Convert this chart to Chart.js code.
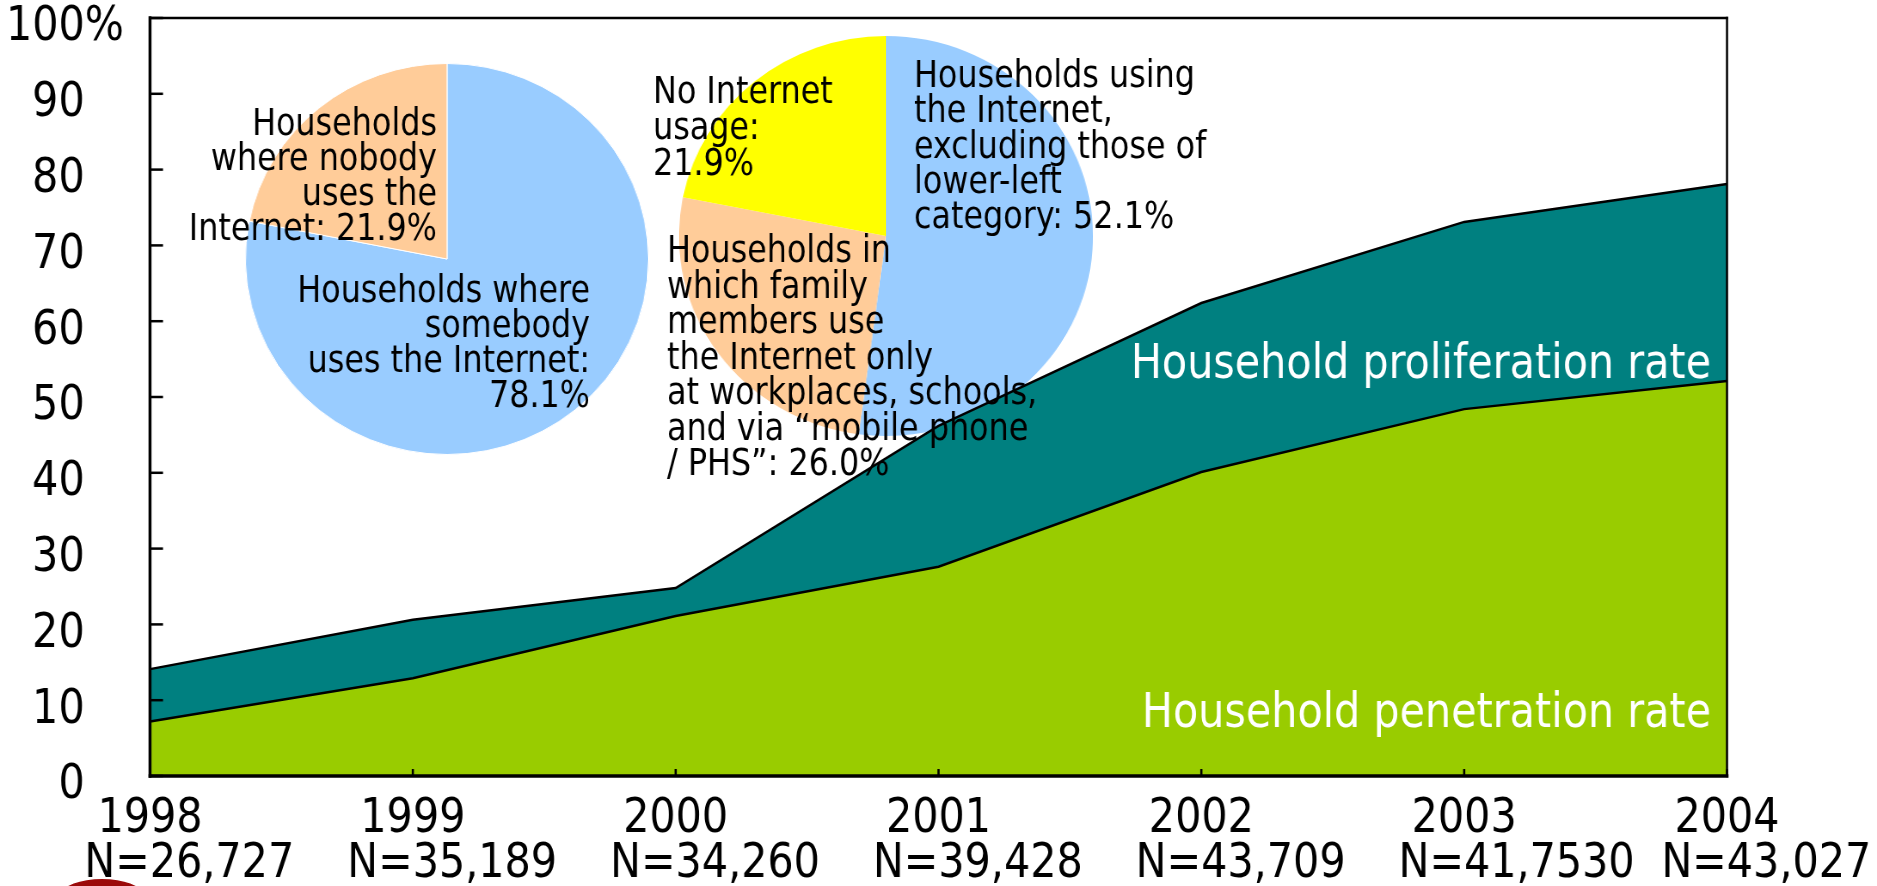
<!DOCTYPE html>
<html>
<head>
<meta charset="utf-8">
<script src="https://cdn.jsdelivr.net/npm/chart.js@4.4.1/dist/chart.umd.min.js"></script>
<style>
  html, body { margin: 0; padding: 0; background: #fff; overflow: hidden; }
  #stage { position: relative; width: 1877px; height: 886px; overflow: hidden; }
  #stage canvas { position: absolute; }
  .swoosh {
    position: absolute; left: 62px; top: 879px; width: 80px; height: 30px;
    border-radius: 50%; background: #9b0a0a;
  }
</style>
</head>
<body>
<div id="stage">
  <canvas id="pieLeft" width="392" height="392" style="left:245px;top:63px;width:404px;height:392px"></canvas>
  <canvas id="pieRight" width="400" height="400" style="left:679px;top:36px;width:414px;height:400px"></canvas>
  <canvas id="main" width="2183" height="886" style="left:0;top:0;width:1877px;height:886px"></canvas>
  <div class="swoosh"></div>
</div>
<script>
// survey years and sample sizes shown under each year
const years = ['1998', '1999', '2000', '2001', '2002', '2003', '2004'];
const sampleSizes = ['26,727', '35,189', '34,260', '39,428', '43,709', '41,7530', '43,027'];

// percent of households
const penetration = [7.2, 12.9, 21.1, 27.6, 40.1, 48.4, 52.1];
const proliferation = [14.1, 20.6, 24.8, 46.2, 62.4, 73.1, 78.1];

// 2004 breakdown pies (clockwise from 12 o'clock)
const usePie = [78.1, 21.9];          // somebody uses / nobody uses
const placePie = [52.1, 26.0, 21.9];  // home users / outside only / no usage

const BLUE = '#99ccff', PEACH = '#ffcc99', YELLOW = '#ffff00';
const TEAL = '#008080', GREEN = '#99cc00';
const FONT = '"DejaVu Sans", Verdana, sans-serif';

// the main canvas is drawn wider than it is shown, which narrows the type
const K = 1877 / 2183;
const px = x => x / K;

Chart.defaults.font.family = FONT;
Chart.defaults.color = '#000';

const pct = v => v.toFixed(1) + '%';

// year sits centred on its tick, the N line starts a little left of it
const measure = document.createElement('canvas').getContext('2d');
measure.font = '48px ' + FONT;
const yearShift = measure.measureText(years[0]).width / 2 + measure.measureText(' ').width;

function makePie(id, values, colors, border) {
  new Chart(document.getElementById(id), {
    type: 'pie',
    data: { datasets: [{ data: values, backgroundColor: colors, borderColor: '#fff', borderWidth: border }] },
    options: {
      responsive: false, devicePixelRatio: 1, animation: false, events: [],
      layout: { padding: 0 },
      plugins: { legend: { display: false }, tooltip: { enabled: false } }
    }
  });
}
makePie('pieLeft', usePie, [BLUE, PEACH], 1);
makePie('pieRight', placePie, [BLUE, PEACH, YELLOW], 0);

// text blocks placed around the pies and inside the areas
const notes = [
  { lines: ['Households', 'where nobody', 'uses the', 'Internet: ' + pct(usePie[1])],
    x: 437, y: 135, step: 35, align: 'right' },
  { lines: ['Households where', 'somebody', 'uses the Internet:', pct(usePie[0])],
    x: 590, y: 302, step: 35, align: 'right' },
  { lines: ['No Internet', 'usage:', pct(placePie[2])],
    x: 653, y: 103, step: 36, align: 'left' },
  { lines: ['Households using', 'the Internet,', 'excluding those of', 'lower-left', 'category: ' + pct(placePie[0])],
    x: 914, y: 87, step: 35.3, align: 'left' },
  { lines: ['Households in', 'which family', 'members use', 'the Internet only',
            'at workplaces, schools,', 'and via \u201Cmobile phone', '/ PHS\u201D: ' + pct(placePie[1])],
    x: 667, y: 262, step: 35.5, align: 'left' }
];
const areaNames = [
  { text: 'Household proliferation rate', x: 1711, y: 378 },
  { text: 'Household penetration rate', x: 1711, y: 727 }
];

const frame = {
  id: 'frame',
  afterDatasetsDraw(chart) {
    const { ctx, chartArea: a, scales: { x, y } } = chart;
    const seg = (x1, y1, x2, y2, w) => {
      ctx.lineWidth = w;
      ctx.beginPath(); ctx.moveTo(x1, y1); ctx.lineTo(x2, y2); ctx.stroke();
    };
    ctx.save();
    ctx.strokeStyle = '#000';
    // tick marks point into the plot
    y.ticks.forEach(t => {
      const p = y.getPixelForValue(t.value);
      seg(a.left, p, a.left + px(13), p, 2.5);
    });
    x.ticks.forEach((t, i) => {
      const p = x.getPixelForTick(i);
      seg(p, a.bottom, p, a.bottom - 7, px(2.2));
    });
    ctx.lineCap = 'square';
    seg(a.left, a.top, a.right, a.top, 2.5);
    seg(a.right, a.top, a.right, a.bottom, px(2.2));
    seg(a.left, a.bottom, a.right, a.bottom, 3.5);
    seg(a.left, a.top, a.left, a.bottom, px(3));
    ctx.restore();
  },
  afterDraw(chart) {
    const ctx = chart.ctx;
    ctx.save();
    ctx.textBaseline = 'alphabetic';
    ctx.fillStyle = '#000';
    ctx.font = '37px ' + FONT;
    notes.forEach(n => {
      ctx.textAlign = n.align;
      n.lines.forEach((l, i) => ctx.fillText(l, px(n.x), n.y + i * n.step));
    });
    ctx.fillStyle = '#fff';
    ctx.font = '48px ' + FONT;
    ctx.textAlign = 'right';
    areaNames.forEach(n => ctx.fillText(n.text, px(n.x), n.y));
    ctx.restore();
  }
};

new Chart(document.getElementById('main'), {
  type: 'line',
  data: {
    labels: years.map((yr, i) => [' ' + yr, 'N=' + sampleSizes[i]]),
    datasets: [
      { label: 'Household penetration rate', data: penetration, fill: 'origin',
        backgroundColor: GREEN, borderColor: '#000', borderWidth: 2.5, pointRadius: 0, tension: 0 },
      { label: 'Household proliferation rate', data: proliferation, fill: 'origin',
        backgroundColor: TEAL, borderColor: '#000', borderWidth: 2.5, pointRadius: 0, tension: 0 }
    ]
  },
  options: {
    responsive: false, devicePixelRatio: 1, animation: false, events: [],
    layout: { padding: { left: 0, right: px(1877 - 1727), top: 18, bottom: 0 } },
    plugins: { legend: { display: false }, tooltip: { enabled: false } },
    scales: {
      x: {
        grid: { display: false, drawTicks: false },
        border: { display: false },
        ticks: { autoSkip: false, maxRotation: 0, minRotation: 0, padding: 21,
                 align: 'start', labelOffset: -yearShift,
                 font: { size: 48, lineHeight: 0.9375 } },
        afterFit(s) { s.height = 110; s.paddingLeft = 0; s.paddingRight = 0; }
      },
      y: {
        min: 0, max: 100,
        grid: { display: false, drawTicks: false },
        border: { display: false },
        ticks: {
          stepSize: 10, padding: px(26), labelOffset: 10,
          font: { size: 48 },
          // pad plain numbers with the width of '%' so the digits line up under "100"
          callback: v => v === 100 ? '100%' : v + '   '
        },
        afterFit(s) { s.width = px(150); s.paddingTop = 0; s.paddingBottom = 0; }
      }
    }
  },
  plugins: [frame]
});
</script>
</body>
</html>
